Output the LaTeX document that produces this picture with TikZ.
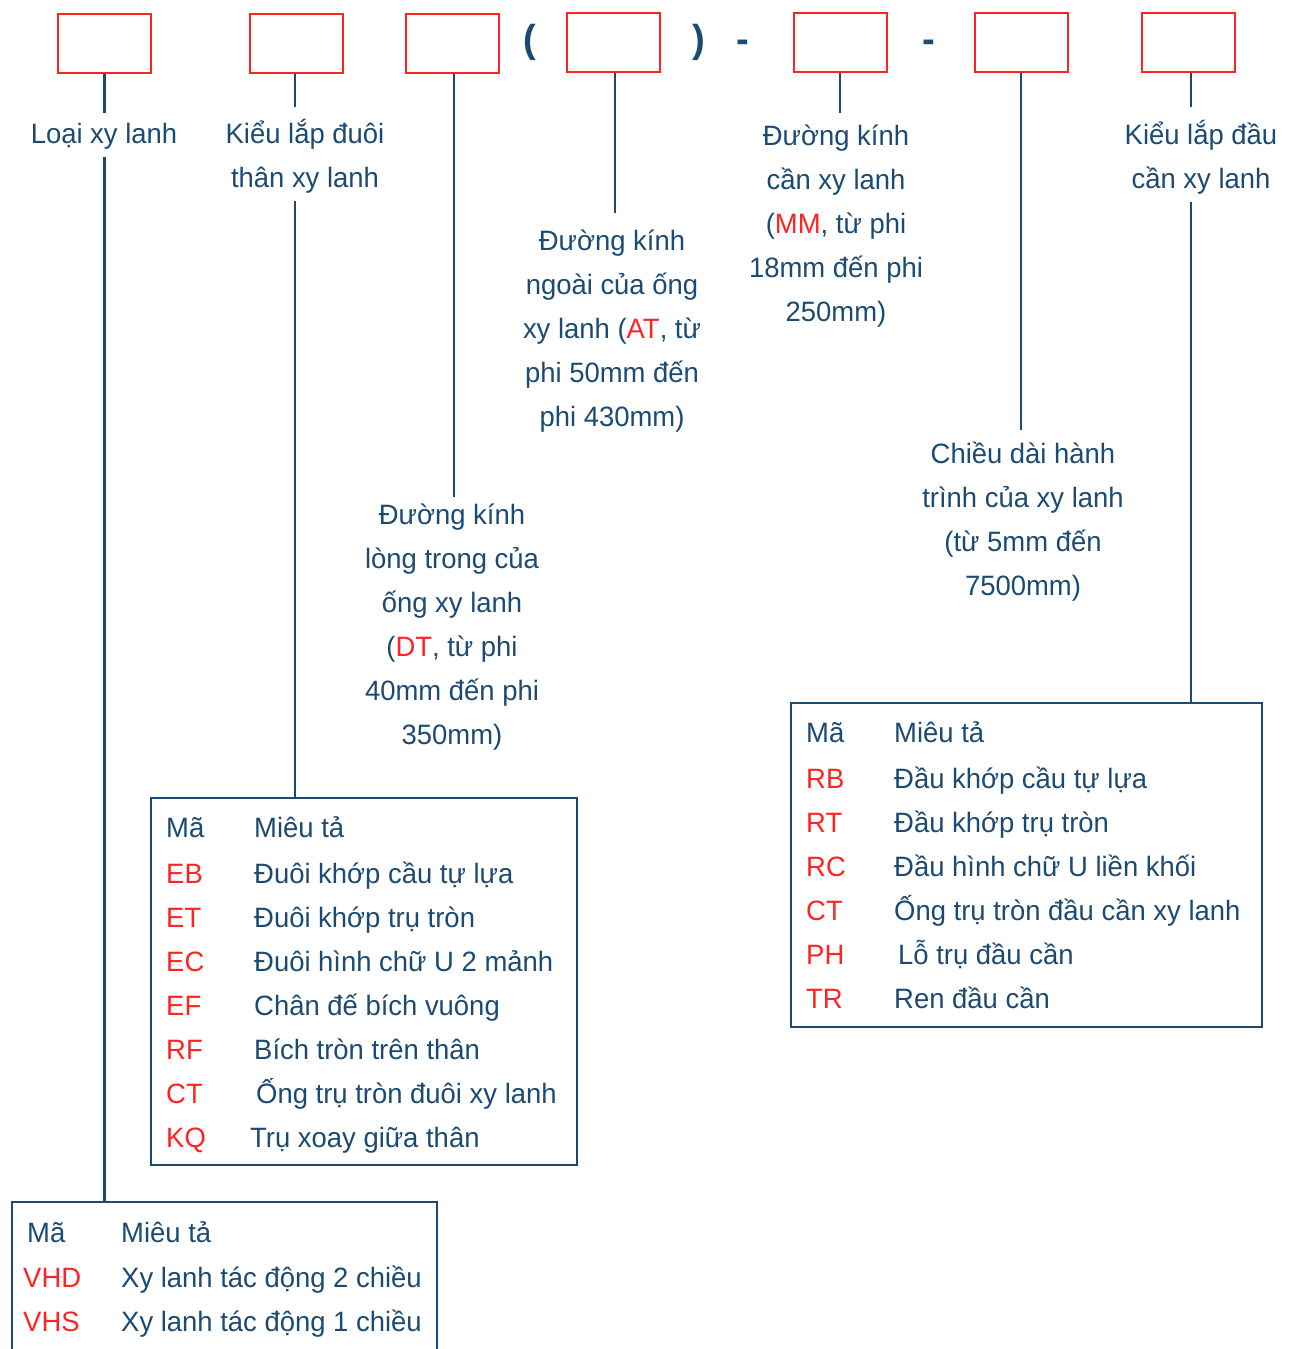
\documentclass[tikz,border=0pt]{standalone}
\usepackage{fontspec}
\setmainfont[FakeStretch=0.98]{Liberation Sans}
\definecolor{nv}{HTML}{1B4A73}
\definecolor{rd}{HTML}{FF2424}
\newcommand\rc[1]{\textcolor{rd}{#1}}
\newcommand\tops[1]{\rule{0pt}{#1pt}}
\newcommand\bots{\rule[-14pt]{0pt}{14pt}}
\begin{document}
\begin{tikzpicture}[x=1pt,y=-1pt,
  font=\fontsize{28}{44}\selectfont, text=nv,
  topbox/.style={draw=rd, line width=1.8pt, minimum width=93pt, minimum height=59pt, inner sep=0pt, anchor=north west},
  lbl/.style={align=center, inner sep=0pt, anchor=north},
  tbl/.style={draw=nv, line width=2.2pt, inner sep=0pt, anchor=north west},
  tbltext/.style={anchor=base west, inner sep=0pt},
  conA/.style={draw=nv, line width=2.6pt},
  conB/.style={draw=nv, line width=2pt},
  sym/.style={font=\fontsize{39}{40}\selectfont\bfseries, inner sep=0pt}]
\clip (0,0) rectangle (1293,1349);
% top boxes
\node[topbox] (b1) at (57,13) {};
\node[topbox] (b2) at (249,13) {};
\node[topbox] (b3) at (405,13) {};
\node[topbox] (b4) at (566,12) {};
\node[topbox] (b5) at (793,12) {};
\node[topbox] (b6) at (974,12) {};
\node[topbox] (b7) at (1141,12) {};
% symbols
\node[sym] (p1) at (530,42) {(};
\node[sym] (p2) at (699,42) {)};
\node[sym] (d1) at (743,46) {-};
\node[sym] (d2) at (929,46) {-};
% labels
\node[lbl] (l1) at (104,113) {\tops{30}Loại xy lanh\bots};
\node[lbl] (l2) at (305,107) {\tops{36}Kiểu lắp đuôi\\thân xy lanh\bots};
\node[lbl] (l3) at (452,497) {\tops{27}Đường kính\\lòng trong của\\ống xy lanh\\(\rc{DT}, từ phi\\40mm đến phi\\350mm)};
\node[lbl] (l4) at (612,213) {\tops{37}Đường kính\\ngoài của ống\\xy lanh (\rc{AT}, từ\\phi 50mm đến\\phi 430mm)};
\node[lbl] (l5) at (836,113) {\tops{32}Đường kính\\cần xy lanh\\(\rc{MM}, từ phi\\18mm đến phi\\250mm)};
\node[lbl] (l6) at (1023,430) {\tops{33}Chiều dài hành\\trình của xy lanh\\(từ 5mm đến\\7500mm)};
\node[lbl] (l7) at (1201,107) {\tops{37}Kiểu lắp đầu\\cần xy lanh\bots};
% tables
\node[tbl, minimum width=426pt, minimum height=367pt] (t1) at (150,797) {};
\node[tbltext] (t1x) at (166,837) {\begin{tabular}[t]{@{}p{88pt}@{}l@{}}
Mã & Miêu tả\\[2pt]
\rc{EB} & Đuôi khớp cầu tự lựa\\
\rc{ET} & Đuôi khớp trụ tròn\\
\rc{EC} & Đuôi hình chữ U 2 mảnh\\
\rc{EF} & Chân đế bích vuông\\
\rc{RF} & Bích tròn trên thân\\
\rc{CT} & \hspace{2pt}Ống trụ tròn đuôi xy lanh\\
\rc{KQ} & \hspace{-4pt}Trụ xoay giữa thân
\end{tabular}};
\node[tbl, minimum width=471pt, minimum height=324pt] (t2) at (790,702) {};
\node[tbltext] (t2x) at (806,742) {\begin{tabular}[t]{@{}p{88pt}@{}l@{}}
Mã & Miêu tả\\[2pt]
\rc{RB} & Đầu khớp cầu tự lựa\\
\rc{RT} & Đầu khớp trụ tròn\\
\rc{RC} & Đầu hình chữ U liền khối\\
\rc{CT} & Ống trụ tròn đầu cần xy lanh\\
\rc{PH} & \hspace{4pt}Lỗ trụ đầu cần\\
\rc{TR} & Ren đầu cần
\end{tabular}};
\node[tbl, minimum width=425pt, minimum height=200pt] (t3) at (11,1201) {};
\node[tbltext] (t3x) at (23,1242) {\begin{tabular}[t]{@{}p{98pt}@{}l@{}}
\hspace{4pt}Mã & Miêu tả\\[1pt]
\rc{VHD} & Xy lanh tác động 2 chiều\\
\rc{VHS} & Xy lanh tác động 1 chiều
\end{tabular}};
% connectors
\draw[conA] (b1.south) -- (b1.south |- l1.north);
\draw[conA] (b1.south |- l1.south) -- (b1.south |- t3.north);
\draw[conA] ([xshift=-1.5pt]b2.south) -- ([xshift=-1.5pt]b2.south |- l2.north);
\draw[conA] ([xshift=-1.5pt]b2.south |- l2.south) -- ([xshift=-1.5pt]b2.south |- t1.north);
\draw[conA] ([xshift=1.5pt]b3.south) -- ([xshift=1.5pt]b3.south |- l3.north);
\draw[conB] ([xshift=1.5pt]b4.south) -- ([xshift=1.5pt]b4.south |- l4.north);
\draw[conB] (b5.south) -- (b5.south |- l5.north);
\draw[conB] (b6.south) -- (b6.south |- l6.north);
\draw[conB] ([xshift=2.5pt]b7.south) -- ([xshift=2.5pt]b7.south |- l7.north);
\draw[conB] ([xshift=2.5pt]b7.south |- l7.south) -- ([xshift=2.5pt]b7.south |- t2.north);
\end{tikzpicture}
\end{document}
